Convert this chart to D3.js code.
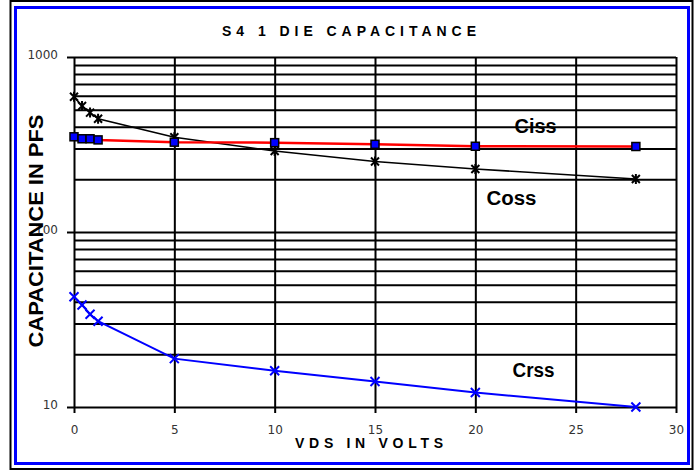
<!DOCTYPE html>
<html>
<head>
<meta charset="utf-8">
<script src="https://cdn.jsdelivr.net/npm/d3@7"></script>
<style>
  body { margin: 0; background: #fff; }
  svg { display: block; }
</style>
</head>
<body>
<svg id="chart" width="695" height="470"></svg>
<script>
// VDS in volts
var vds  = [0, 0.4, 0.8, 1.2, 5, 10, 15, 20, 28];
// capacitances in pF
var ciss = [350, 341, 341, 336, 326, 324, 317, 309, 308];
var coss = [593, 525, 481, 444, 348, 290, 253, 229, 201];
var crss = [42.7, 38.3, 33.9, 30.9, 18.9, 16.1, 14.0, 12.1, 10.0];

var xTicks = [0, 5, 10, 15, 20, 25, 30];
var yLabelTicks = [10, 100, 1000];
var seriesNames = ["Ciss", "Coss", "Crss"];

var svg = d3.select("#chart");
var pLeft = 74, pRight = 676, pTop = 57, pBottom = 407;

var x = d3.scaleLinear().domain([0, 30]).range([pLeft, pRight]);
var y = d3.scaleLog().domain([10, 1000]).range([pBottom, pTop]);

// frames
svg.append("rect").attr("x", 10.5).attr("y", 1).attr("width", 682).attr("height", 468)
  .attr("fill", "#fff").attr("stroke", "#000").attr("stroke-width", 2);
svg.append("rect").attr("x", 15.5).attr("y", 7.5).attr("width", 673).attr("height", 456)
  .attr("fill", "none").attr("stroke", "#0000ff").attr("stroke-width", 3);

// title
svg.append("text").attr("x", 349).attr("y", 36).attr("text-anchor", "middle")
  .attr("font-family", "Liberation Sans, Arial, sans-serif").attr("font-weight", "bold")
  .attr("font-size", 14).attr("textLength", 254).attr("lengthAdjust", "spacing")
  .text("S4 1 DIE CAPACITANCE");

// grid
var grid = svg.append("g");
grid.append("g").attr("transform", "translate(" + pLeft + ",0)")
  .call(d3.axisLeft(y).tickValues(y.ticks()).tickSize(-(pRight - pLeft)).tickFormat(""))
  .call(function(g){ g.select(".domain").remove(); });
grid.append("g").attr("transform", "translate(0," + pBottom + ")")
  .call(d3.axisBottom(x).tickValues(xTicks).tickSize(-(pBottom - pTop)).tickFormat(""))
  .call(function(g){ g.select(".domain").remove(); });
grid.selectAll("line").attr("stroke", "#000").attr("stroke-width", 2);

// axis ticks + labels
var yAxis = svg.append("g").attr("transform", "translate(" + pLeft + ",0)")
  .call(d3.axisLeft(y).tickValues(yLabelTicks).tickSize(7).tickPadding(9).tickFormat(d3.format("d")));
var xAxis = svg.append("g").attr("transform", "translate(0," + pBottom + ")")
  .call(d3.axisBottom(x).tickValues(xTicks).tickSize(6).tickPadding(12).tickFormat(d3.format("d")));
[yAxis, xAxis].forEach(function(a){
  a.select(".domain").remove();
  a.selectAll("line").attr("stroke", "#000").attr("stroke-width", 2);
  a.selectAll("text").attr("fill", "#333").attr("font-family", "DejaVu Sans, sans-serif").attr("font-size", 12);
});
yAxis.selectAll("text").attr("dy", "0.15em");

// axis titles
svg.append("text").attr("x", 369).attr("y", 448).attr("text-anchor", "middle")
  .attr("font-family", "Liberation Sans, Arial, sans-serif").attr("font-weight", "bold")
  .attr("font-size", 14).attr("textLength", 148).attr("lengthAdjust", "spacing")
  .text("VDS IN VOLTS");
svg.append("text").attr("transform", "translate(43,231) rotate(-90)").attr("text-anchor", "middle")
  .attr("font-family", "Liberation Sans, Arial, sans-serif").attr("font-weight", "bold")
  .attr("font-size", 21).attr("textLength", 233).attr("lengthAdjust", "spacingAndGlyphs")
  .text("CAPACITANCE IN PFS");

var line = d3.line().x(function(d){ return x(d[0]); }).y(function(d){ return y(d[1]); });
function pts(vals){ return vds.map(function(v, i){ return [v, vals[i]]; }); }

// Coss
svg.append("path").datum(pts(coss)).attr("d", line).attr("fill", "none")
  .attr("stroke", "#000").attr("stroke-width", 1.6);
svg.append("g").selectAll("path").data(pts(coss)).enter().append("path")
  .attr("transform", function(d){ return "translate(" + x(d[0]) + "," + y(d[1]) + ")"; })
  .attr("d", "M-4,-4L4,4M-4,4L4,-4M0,-5L0,5")
  .attr("stroke", "#000").attr("stroke-width", 2);

// Ciss
svg.append("path").datum(pts(ciss)).attr("d", line).attr("fill", "none")
  .attr("stroke", "#ff0000").attr("stroke-width", 2.5);
svg.append("g").selectAll("rect").data(pts(ciss)).enter().append("rect")
  .attr("x", function(d){ return x(d[0]) - 4; })
  .attr("y", function(d){ return y(d[1]) - 4; })
  .attr("width", 8).attr("height", 8)
  .attr("fill", "#0000ff").attr("stroke", "#000").attr("stroke-width", 1.5);

// Crss
svg.append("path").datum(pts(crss)).attr("d", line).attr("fill", "none")
  .attr("stroke", "#0000ff").attr("stroke-width", 2);
svg.append("g").selectAll("path").data(pts(crss)).enter().append("path")
  .attr("transform", function(d){ return "translate(" + x(d[0]) + "," + y(d[1]) + ")"; })
  .attr("d", "M-4.5,-4.5L4.5,4.5M-4.5,4.5L4.5,-4.5")
  .attr("stroke", "#0000ff").attr("stroke-width", 2);

// series labels (condensed bold)
var labelPos = [[23.0, 133, 42], [21.8, 205, 50], [22.9, 377, 42]];
svg.append("g").selectAll("text").data(seriesNames).enter().append("text")
  .attr("x", function(d, i){ return x(labelPos[i][0]); })
  .attr("y", function(d, i){ return labelPos[i][1]; })
  .attr("text-anchor", "middle")
  .attr("font-family", "Liberation Sans, Arial, sans-serif").attr("font-weight", "bold")
  .attr("font-size", 20).attr("fill", "#000")
  .attr("textLength", function(d, i){ return labelPos[i][2]; })
  .attr("lengthAdjust", "spacingAndGlyphs")
  .text(function(d){ return d; });
</script>
</body>
</html>
